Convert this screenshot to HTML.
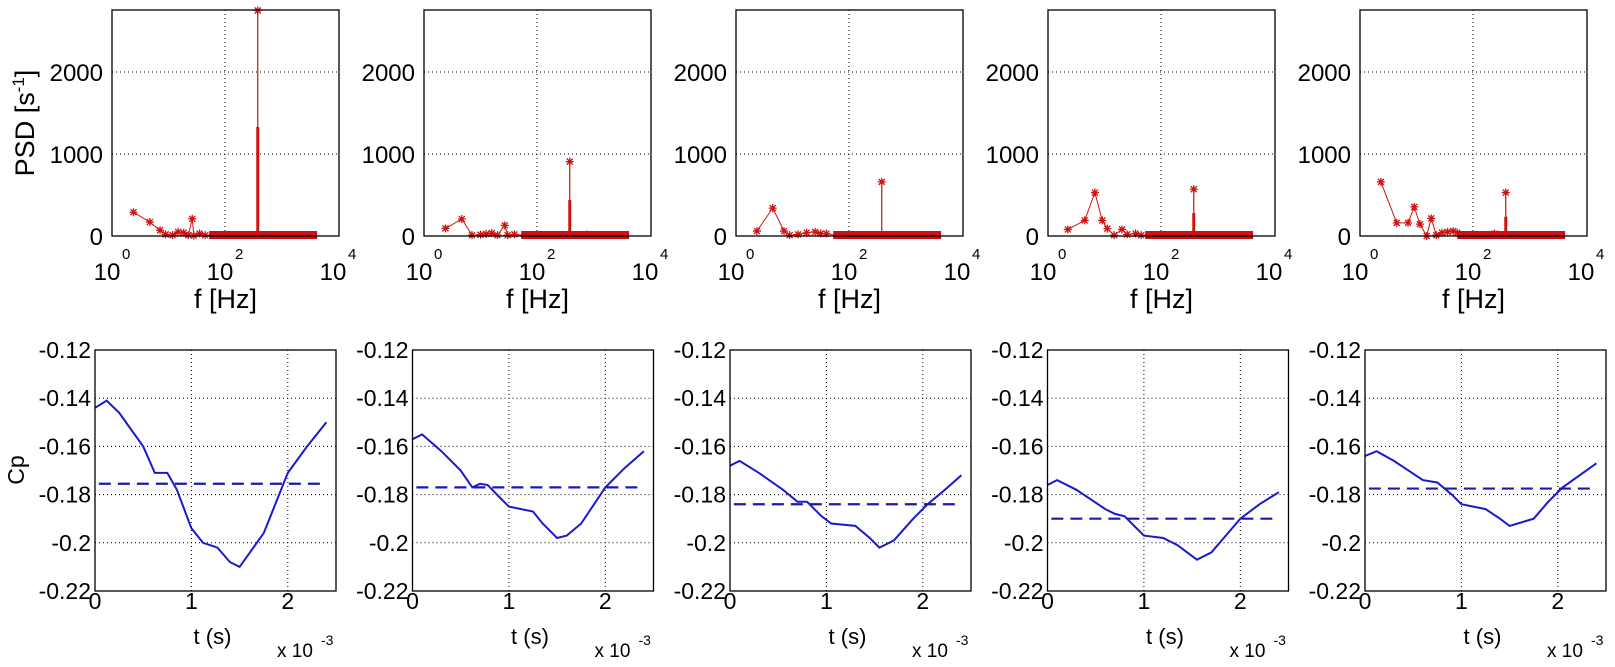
<!DOCTYPE html>
<html><head><meta charset="utf-8"><style>
html,body{margin:0;padding:0;background:#fff;}
svg{display:block;font-family:"Liberation Sans",Arial,sans-serif;}
</style></head><body>
<svg id="s" width="1615" height="667" viewBox="0 0 1615 667" xmlns="http://www.w3.org/2000/svg"></svg>
<script>
(function(){
const S=document.getElementById('s');let h='';
const topData=[
 {st:[[0.38,290],[0.67,170],[0.85,70],[0.95,20],[1.07,10],[1.17,50],[1.27,40],[1.35,10],[1.42,210],[1.45,5],[1.55,30],[1.65,10]],pk:2750,th:1330,ex:[]},
 {st:[[0.38,93],[0.67,207],[0.85,10],[1.0,15],[1.1,25],[1.2,35],[1.3,10],[1.43,130],[1.48,10],[1.6,20]],pk:907,th:440,ex:[[2.88,20]]},
 {st:[[0.37,60],[0.65,340],[0.85,60],[0.95,10],[1.1,20],[1.25,40],[1.4,50],[1.5,30],[1.6,30]],pk:660,th:0,ex:[]},
 {st:[[0.35,80],[0.65,190],[0.83,530],[0.96,190],[1.05,90],[1.17,10],[1.31,80],[1.4,20],[1.55,30],[1.65,10]],pk:570,th:280,ex:[]},
 {st:[[0.37,660],[0.65,160],[0.85,160],[0.96,355],[1.06,145],[1.18,0],[1.26,215],[1.35,10],[1.45,40],[1.55,50],[1.65,60],[1.72,40]],pk:530,th:235,ex:[[2.38,30]]}
];
function star(x,y,c){const r=4;return '<path d="M'+(x-r)+' '+y+'H'+(x+r)+'M'+x+' '+(y-r)+'V'+(y+r)+'M'+(x-3)+' '+(y-3)+'L'+(x+3)+' '+(y+3)+'M'+(x-3)+' '+(y+3)+'L'+(x+3)+' '+(y-3)+'" stroke="'+c+'" stroke-width="1.3"/>';}
for(let i=0;i<5;i++){
 const L=112+312*i,R=L+227,T=10,B=236,d=56.5;
 const X=v=>L+v*d,Y=v=>B-v*0.082;
 h+=`<g stroke="#000" stroke-width="1" stroke-dasharray="1,3"><line x1="${X(2)}" y1="${T}" x2="${X(2)}" y2="${B}"/><line x1="${L}" y1="${Y(1000)}" x2="${R}" y2="${Y(1000)}"/><line x1="${L}" y1="${Y(2000)}" x2="${R}" y2="${Y(2000)}"/></g>`;
 const p=topData[i];const c='#d01010';
 let pts=p.st.map(a=>X(a[0]).toFixed(1)+','+Y(a[1]).toFixed(1)).join(' ');
 pts+=' '+X(1.75)+','+Y(10);
 h+=`<polyline points="${pts}" fill="none" stroke="${c}" stroke-width="1"/>`;
 p.st.forEach(a=>{h+=star(X(a[0]),Y(a[1]),c);});
 h+=`<rect x="${X(1.72)}" y="${B-5}" width="${X(3.63)-X(1.72)}" height="8" fill="${c}"/>`;
 h+=`<line x1="${X(2.58)}" y1="${B}" x2="${X(2.58)}" y2="${Y(p.pk)}" stroke="${c}" stroke-width="1.2"/>`;
 if(p.th)h+=`<line x1="${X(2.58)}" y1="${B}" x2="${X(2.58)}" y2="${Y(p.th)}" stroke="${c}" stroke-width="3"/>`;
 h+=star(X(2.58),Y(p.pk),c);
 p.ex.forEach(a=>{h+=`<line x1="${X(a[0])}" y1="${B}" x2="${X(a[0])}" y2="${Y(a[1])}" stroke="${c}"/>`+star(X(a[0]),Y(a[1]),c);});
 h+=`<rect x="${L}" y="${T}" width="${R-L}" height="${B-T}" fill="none" stroke="#000" stroke-width="1.3"/>`;
 [[0,'0'],[1000,'1000'],[2000,'2000']].forEach(a=>{h+=`<text x="${L-9}" y="${Y(a[0])+9}" font-size="24" text-anchor="end">${a[1]}</text>`;});
 [0,2,4].forEach(e=>{h+=`<text x="${X(e)-5}" y="280" font-size="24" text-anchor="middle">10</text><text x="${X(e)+10}" y="259" font-size="15">${e}</text>`;});
 h+=`<text x="${(L+R)/2}" y="308" font-size="27" text-anchor="middle">f [Hz]</text>`;
}
h+=`<text transform="translate(34,123) rotate(-90)" font-size="27" text-anchor="middle">PSD [s<tspan dy="-10" font-size="17">-1</tspan><tspan dy="10">]</tspan></text>`;
const botData=[
 {m:-0.1755,c:[[0,-0.144],[0.12,-0.141],[0.25,-0.146],[0.5,-0.160],[0.62,-0.171],[0.75,-0.171],[0.85,-0.178],[1.0,-0.194],[1.12,-0.200],[1.27,-0.202],[1.4,-0.208],[1.5,-0.210],[1.75,-0.196],[2.0,-0.171],[2.2,-0.160],[2.4,-0.150]]},
 {m:-0.177,c:[[0,-0.157],[0.1,-0.155],[0.3,-0.162],[0.5,-0.170],[0.62,-0.177],[0.7,-0.1755],[0.78,-0.176],[0.9,-0.181],[1.0,-0.185],[1.25,-0.187],[1.35,-0.192],[1.5,-0.198],[1.6,-0.197],[1.75,-0.192],[1.9,-0.183],[2.0,-0.177],[2.2,-0.169],[2.4,-0.162]]},
 {m:-0.184,c:[[0,-0.168],[0.1,-0.166],[0.3,-0.171],[0.55,-0.178],[0.7,-0.183],[0.8,-0.183],[0.95,-0.189],[1.05,-0.192],[1.3,-0.193],[1.45,-0.198],[1.55,-0.202],[1.7,-0.199],[1.9,-0.190],[2.05,-0.184],[2.2,-0.179],[2.4,-0.172]]},
 {m:-0.190,c:[[0,-0.176],[0.1,-0.174],[0.3,-0.178],[0.6,-0.186],[0.7,-0.188],[0.8,-0.189],[1.0,-0.197],[1.2,-0.198],[1.35,-0.201],[1.55,-0.207],[1.7,-0.204],[1.85,-0.197],[2.0,-0.190],[2.2,-0.184],[2.4,-0.179]]},
 {m:-0.1775,c:[[0,-0.164],[0.12,-0.162],[0.3,-0.166],[0.6,-0.174],[0.75,-0.175],[0.9,-0.180],[1.0,-0.184],[1.25,-0.186],[1.4,-0.190],[1.5,-0.193],[1.75,-0.190],[1.9,-0.183],[2.05,-0.177],[2.4,-0.167]]}
];
for(let i=0;i<5;i++){
 const L=95+317.5*i,R=L+241,T=350,B=591;
 const X=v=>L+v*(R-L)/2.5,Y=v=>T+(-0.12-v)*(B-T)/0.1;
 h+='<g stroke="#000" stroke-width="1" stroke-dasharray="1,3">';
 [1,2].forEach(v=>{h+=`<line x1="${X(v)}" y1="${T}" x2="${X(v)}" y2="${B}"/>`;});
 [-0.14,-0.16,-0.18,-0.2].forEach(v=>{h+=`<line x1="${L}" y1="${Y(v)}" x2="${R}" y2="${Y(v)}"/>`;});
 h+='</g>';
 const b=botData[i];
 h+=`<polyline points="${b.c.map(a=>X(a[0]).toFixed(1)+','+Y(a[1]).toFixed(1)).join(' ')}" fill="none" stroke="#1a1acc" stroke-width="2"/>`;
 h+=`<line x1="${X(0.04)}" y1="${Y(b.m)}" x2="${X(2.4)}" y2="${Y(b.m)}" stroke="#1a1ab0" stroke-width="2.2" stroke-dasharray="12,7"/>`;
 h+=`<rect x="${L}" y="${T}" width="${R-L}" height="${B-T}" fill="none" stroke="#000" stroke-width="1.3"/>`;
 [['-0.12',-0.12],['-0.14',-0.14],['-0.16',-0.16],['-0.18',-0.18],['-0.2',-0.2],['-0.22',-0.22]].forEach(a=>{h+=`<text x="${L-4}" y="${Y(a[1])+8}" font-size="23" text-anchor="end">${a[0]}</text>`;});
 [0,1,2].forEach(v=>{h+=`<text x="${X(v)}" y="609" font-size="23" text-anchor="middle">${v}</text>`;});
 h+=`<text x="${(L+R)/2-3}" y="644" font-size="22" text-anchor="middle">t (s)</text>`;
 h+=`<text x="${R-59}" y="657" font-size="19">x 10</text><text x="${R-15}" y="645" font-size="14">-3</text>`;
}
h+='<text transform="translate(24,470) rotate(-90)" font-size="23" text-anchor="middle">Cp</text>';
S.innerHTML=h;
})();
</script>
</body></html>
